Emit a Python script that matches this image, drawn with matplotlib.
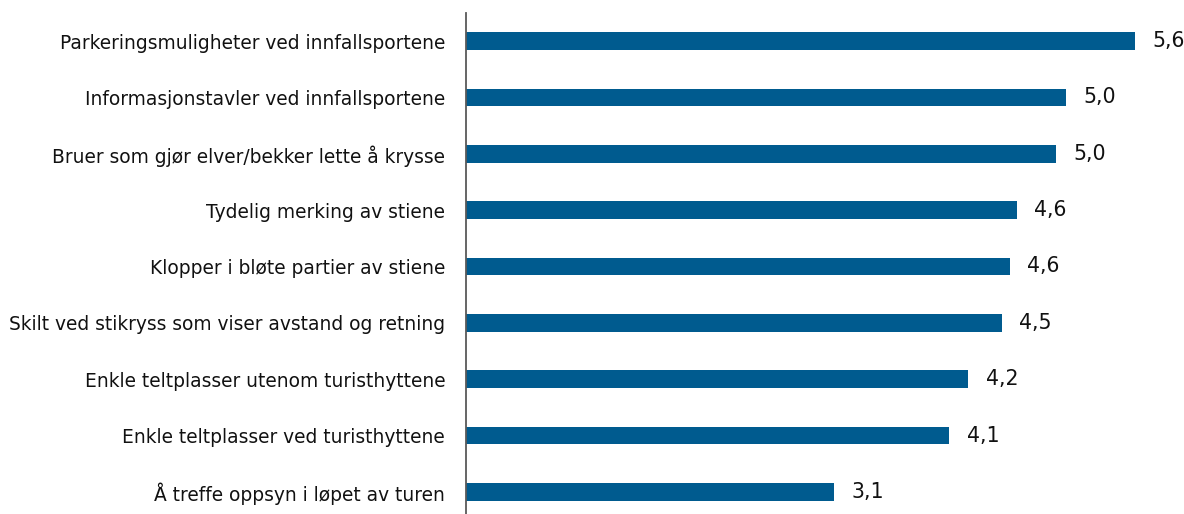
import matplotlib
matplotlib.use("Agg")
import matplotlib.pyplot as plt

categories = [
    "Parkeringsmuligheter ved innfallsportene",
    "Informasjonstavler ved innfallsportene",
    "Bruer som gjør elver/bekker lette å krysse",
    "Tydelig merking av stiene",
    "Klopper i bløte partier av stiene",
    "Skilt ved stikryss som viser avstand og retning",
    "Enkle teltplasser utenom turisthyttene",
    "Enkle teltplasser ved turisthyttene",
    "Å treffe oppsyn i løpet av turen",
]
values = [5.62, 5.04, 4.96, 4.63, 4.57, 4.50, 4.22, 4.06, 3.09]

FONT = ["DejaVu Sans"]
W, H = 1184, 514
fig = plt.figure(figsize=(W / 100, H / 100), dpi=100)
left = 466 / W
right = 1180 / W
top = 13
bottom = 520
ax = fig.add_axes([left, (H - bottom) / H, right - left, (bottom - top) / H])

n = len(categories)
ypos = list(range(n))
ax.barh(ypos, values, height=0.31, color="#005B8F", zorder=2)
ax.set_ylim(n - 0.5, -0.5)
ax.set_xlim(0, 6.0)

ax.set_yticks(ypos)
ax.set_yticklabels(categories, fontsize=13.4, family=FONT, color="#111111")
ax.tick_params(axis="y", length=0, pad=15)
ax.set_xticks([])

for s in ["top", "right", "bottom"]:
    ax.spines[s].set_visible(False)
ax.spines["left"].set_color("#595959")
ax.spines["left"].set_linewidth(1.3)

for y, v in zip(ypos, values):
    ax.annotate(f"{v:.1f}".replace(".", ","), xy=(v, y), xytext=(12.5, 0),
                textcoords="offset points", va="center", ha="left",
                fontsize=14.8, family=FONT, color="#111111")

fig.savefig("out.png", dpi=100)
